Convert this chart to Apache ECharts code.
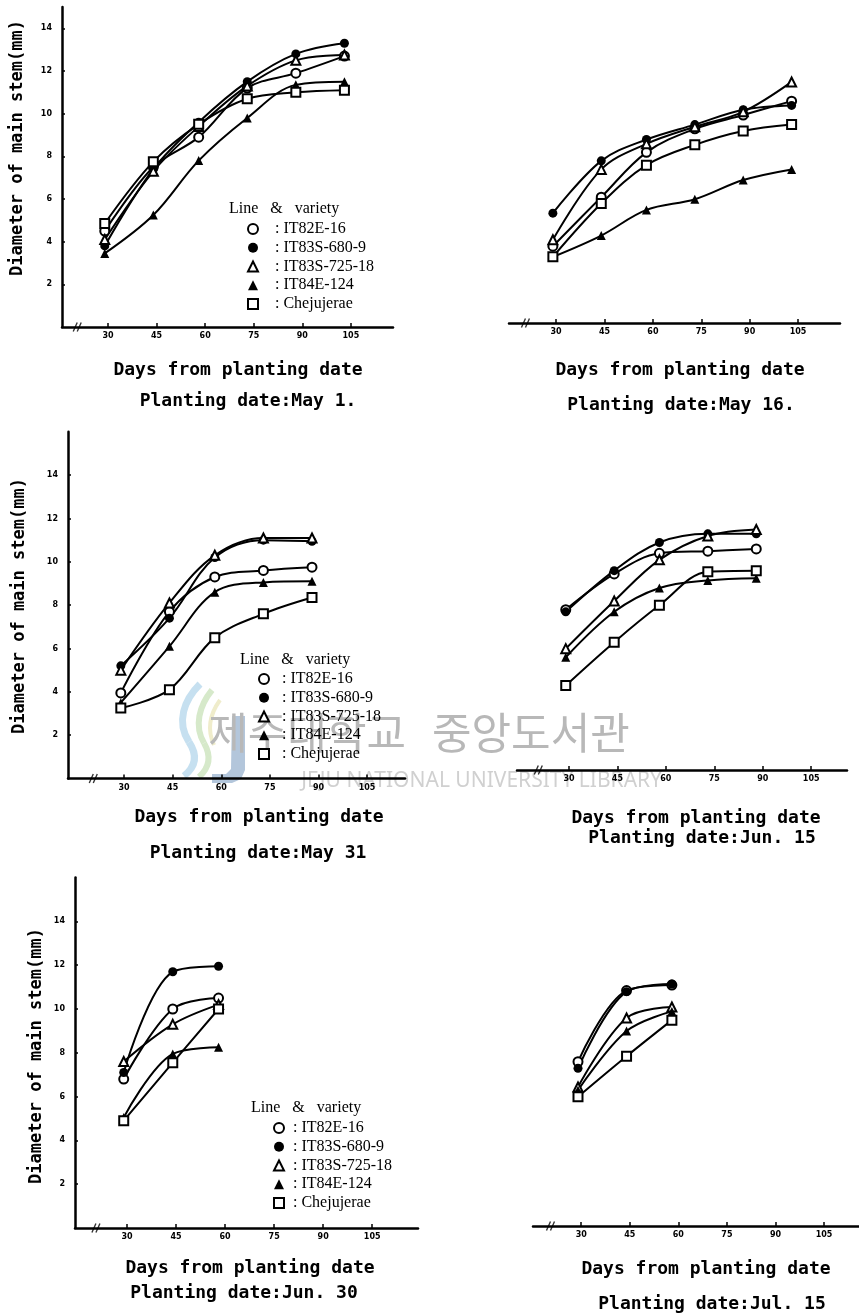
<!DOCTYPE html>
<html>
<head>
<meta charset="utf-8">
<script src="https://cdn.jsdelivr.net/npm/echarts@6/dist/echarts.min.js"></script>
<style>
  html, body { margin: 0; background: #fff; }
  #chart { width: 859px; height: 1316px; }
</style>
</head>
<body>
<div id="chart"></div>
<script>
// sampling days (days from planting date)
const days = [29, 44, 58, 73, 88, 103];
const xTicks = [30, 45, 60, 75, 90, 105];
const yTicks = [2, 4, 6, 8, 10, 12, 14];
const varieties = ['IT82E-16', 'IT83S-680-9', 'IT83S-725-18', 'IT84E-124', 'Chejujerae'];
const symbols = ['emptyCircle', 'circle', 'emptyTriangle', 'triangle', 'emptyRect'];
const breakAt = 20.5;

// diameter of main stem (mm), one row per variety, in the order above
const may1 = [
    [4.5, 7.5, 8.9, 11.2, 11.9, 12.7],
    [3.8, 7.4, 9.6, 11.5, 12.8, 13.3],
    [4.1, 7.3, 9.4, 11.3, 12.5, 12.75],
    [3.45, 5.25, 7.8, 9.8, 11.35, 11.5],
    [4.85, 7.75, 9.5, 10.7, 11.0, 11.1]
];
const may16 = [
    [3.6, 5.9, 8.0, 9.1, 9.75, 10.4],
    [5.15, 7.6, 8.6, 9.3, 10.0, 10.2],
    [3.9, 7.2, 8.4, 9.2, 9.9, 11.3],
    [3.1, 4.1, 5.3, 5.8, 6.7, 7.2],
    [3.1, 5.6, 7.4, 8.35, 9.0, 9.3]
];
const may31 = [
    [3.95, 7.7, 9.3, 9.6, 9.75],
    [5.2, 7.4, 10.2, 11.0, 10.95],
    [5.0, 8.1, 10.3, 11.1, 11.1],
    [3.5, 6.1, 8.6, 9.05, 9.1],
    [3.25, 4.1, 6.5, 7.6, 8.35]
];
const jun15 = [
    [7.4, 9.05, 10.0, 10.1, 10.2],
    [7.3, 9.2, 10.5, 10.9, 10.9],
    [5.6, 7.8, 9.7, 10.8, 11.1],
    [5.2, 7.3, 8.4, 8.75, 8.85],
    [3.9, 5.9, 7.6, 9.15, 9.2]
];
const jun30 = [
    [6.8, 10.0, 10.5],
    [7.1, 11.7, 11.95],
    [7.6, 9.3, 10.2],
    [5.05, 7.95, 8.25],
    [4.9, 7.55, 10.0]
];
const jul15 = [
    [7.5, 10.75, 11.0],
    [7.2, 10.7, 11.05],
    [6.35, 9.5, 10.0],
    [6.2, 8.9, 9.8],
    [5.9, 7.75, 9.4]
];

// layout of the six panels
const panels = [
    { data: may1, label: 'Planting date:May 1.', left: 62, top: 7, width: 331, height: 320, xMin: 15.8, xMax: 118, yMax: 15, showY: true,
      daysPos: [238, 370], datePos: [248, 401], yTitle: [18, 148], legend: { left: 247, top: 221, head: [229, 209], pad: '   : ' } },
    { data: may16, label: 'Planting date:May 16.', left: 509, top: 3, width: 331, height: 320, xMin: 15.4, xMax: 118, yMax: 15, showY: false,
      daysPos: [680, 370], datePos: [681, 405] },
    { data: may31, label: 'Planting date:May 31', left: 68, top: 431.8, width: 337, height: 346.7, xMin: 12.7, xMax: 116.7, yMax: 16, showY: true,
      daysPos: [259, 817], datePos: [258, 853], yTitle: [20, 606], legend: { left: 258, top: 671, head: [240, 660], pad: '  : ' } },
    { data: jun15, label: 'Planting date:Jun. 15', left: 517, top: 423.3, width: 330, height: 346.7, xMin: 13.9, xMax: 116.1, yMax: 16, showY: false,
      daysPos: [696, 818], datePos: [702, 838] },
    { data: jun30, label: 'Planting date:Jun. 30', left: 75, top: 877.6, width: 343, height: 350.4, xMin: 14.1, xMax: 119, yMax: 16, showY: true,
      daysPos: [250, 1268], datePos: [244, 1293], yTitle: [37, 1056], legend: { left: 273, top: 1120, head: [251, 1108], pad: ' : ' } },
    { data: jul15, label: 'Planting date:Jul. 15', left: 533, top: 875.6, width: 326, height: 350.4, xMin: 15.1, xMax: 115.8, yMax: 16, showY: false,
      daysPos: [706, 1269], datePos: [712, 1304] }
];

const monoFont = 'bold 18px "DejaVu Sans Mono", monospace';
const serif = '"Liberation Serif", "DejaVu Serif", serif';

const grids = [];
const xAxes = [];
const yAxes = [];
const series = [];
const legends = [];
const graphics = [];

// watermark of the scanned page (library logo + name)
const swirl = (x1, y1, cx1, cy1, cx2, cy2, x2, y2, stroke, w) => ({
    type: 'bezierCurve', z: -10, silent: true,
    shape: { x1, y1, cpx1: cx1, cpy1: cy1, cpx2: cx2, cpy2: cy2, x2, y2 },
    style: { fill: 'none', stroke, lineWidth: w }
});
graphics.push(swirl(200, 684, 184, 700, 176, 722, 189, 742, '#c6e0f0', 7));
graphics.push(swirl(189, 742, 199, 757, 194, 768, 184, 776, '#c6e0f0', 7));
graphics.push(swirl(212, 690, 199, 706, 194, 726, 204, 743, '#d6e9ca', 6));
graphics.push(swirl(204, 743, 212, 757, 209, 768, 199, 777, '#d6e9ca', 6));
graphics.push(swirl(220, 700, 210, 714, 207, 730, 214, 745, '#efeccb', 4));
graphics.push({ type: 'polygon', z: -10, silent: true,
    shape: { points: [[232, 716], [245, 716], [245, 770], [241, 779], [232, 783], [212, 783], [212, 774], [226, 774], [231, 769]] },
    style: { fill: '#b3c6db' } });
graphics.push({ type: 'text', x: 406, y: 733, z: -10, silent: true,
    style: { text: '제주대학교', font: '43px "Noto Sans CJK KR"', fill: '#b8b8b8', textAlign: 'right', textVerticalAlign: 'middle' } });
graphics.push({ type: 'text', x: 432, y: 733, z: -10, silent: true,
    style: { text: '중앙도서관', font: '43px "Noto Sans CJK KR"', fill: '#b8b8b8', textVerticalAlign: 'middle' } });
graphics.push({ type: 'text', x: 662, y: 781, z: -10, silent: true,
    style: { text: 'JEJU NATIONAL UNIVERSITY LIBRARY', font: '21px "Noto Sans"', fill: '#d0d0d0', textAlign: 'right', textVerticalAlign: 'middle' } });

panels.forEach((p, i) => {
    grids.push({ left: p.left, top: p.top, width: p.width, height: p.height, containLabel: false, outerBoundsMode: 'none' });

    xAxes.push({
        gridIndex: i, type: 'value', min: p.xMin, max: p.xMax,
        axisLine: { show: true, onZero: false, lineStyle: { color: '#000', width: 2.5 } },
        axisTick: { show: true, inside: true, length: 4, customValues: xTicks, lineStyle: { color: '#000', width: 1.5 } },
        axisLabel: { customValues: xTicks, color: '#000', fontSize: 8, fontWeight: 'bold', margin: 5, fontFamily: 'DejaVu Sans' },
        splitLine: { show: false }
    });

    yAxes.push({
        gridIndex: i, type: 'value', min: 0, max: p.yMax, show: p.showY,
        axisLine: { show: true, lineStyle: { color: '#000', width: 2.5 } },
        axisTick: { show: true, inside: true, length: 3, customValues: yTicks, lineStyle: { color: '#000', width: 1.5 } },
        axisLabel: { customValues: yTicks, color: '#000', fontSize: 8, fontWeight: 'bold', margin: 10, fontFamily: 'DejaVu Sans' },
        splitLine: { show: false }
    });

    p.data.forEach((vals, k) => {
        series.push({
            type: 'line', name: varieties[k], xAxisIndex: i, yAxisIndex: i,
            data: vals.map((v, j) => [days[j], v]),
            smooth: 0.35, symbol: symbols[k], symbolSize: 9, showAllSymbol: true,
            lineStyle: { color: '#000', width: 2 },
            itemStyle: { color: '#000', borderWidth: 1.8 },
            emphasis: { disabled: true }, z: 3
        });
    });

    // axis break mark
    series.push({
        type: 'scatter', xAxisIndex: i, yAxisIndex: i, data: [[breakAt, 0]],
        symbol: 'path://M0,10L4,0M4,10L8,0', symbolSize: [8, 9],
        itemStyle: { color: 'transparent', borderColor: '#000', borderWidth: 1.5 },
        clip: false, silent: true, z: 4
    });

    graphics.push({ type: 'text', x: p.daysPos[0], y: p.daysPos[1],
        style: { text: 'Days from planting date', font: monoFont, fill: '#000', textAlign: 'center', textVerticalAlign: 'middle' } });
    graphics.push({ type: 'text', x: p.datePos[0], y: p.datePos[1],
        style: { text: p.label, font: monoFont, fill: '#000', textAlign: 'center', textVerticalAlign: 'middle' } });

    if (p.yTitle) {
        graphics.push({ type: 'text', x: p.yTitle[0], y: p.yTitle[1], rotation: Math.PI / 2,
            style: { text: 'Diameter of main stem(mm)', font: 'bold 17px "DejaVu Sans Mono", monospace', fill: '#000', textAlign: 'center', textVerticalAlign: 'middle' } });
    }

    if (p.legend) {
        const lg = p.legend;
        graphics.push({ type: 'text', x: lg.head[0], y: lg.head[1],
            style: { text: 'Line   &   variety', font: '16px ' + serif, fill: '#000', textVerticalAlign: 'middle' } });
        legends.push({
            orient: 'vertical', left: lg.left, top: lg.top, padding: 0, itemGap: 2.75,
            itemWidth: 10, itemHeight: 10, selectedMode: false,
            data: varieties.map((name, k) => ({ name, icon: symbols[k] })),
            formatter: (name) => lg.pad + name,
            textStyle: { color: '#000', fontSize: 16, lineHeight: 14, fontFamily: serif },
            itemStyle: { color: '#000' }
        });
    }
});

const chart = echarts.init(document.getElementById('chart'));
chart.setOption({
    backgroundColor: '#fff',
    animation: false,
    grid: grids,
    xAxis: xAxes,
    yAxis: yAxes,
    legend: legends,
    graphic: graphics,
    series: series
});
window.addEventListener('resize', () => chart.resize());
</script>
</body>
</html>
